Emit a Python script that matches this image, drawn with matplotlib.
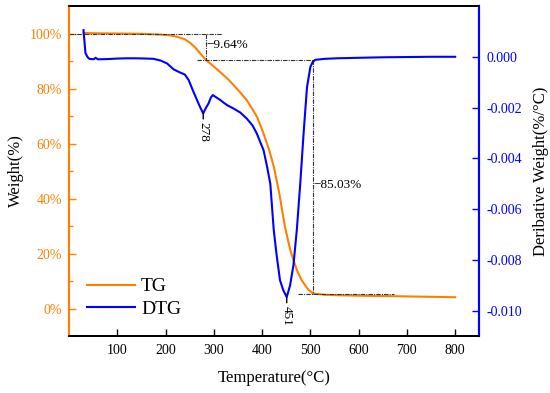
import numpy as np
import matplotlib
matplotlib.use("Agg")
import matplotlib.pyplot as plt

plt.rcParams['font.family'] = ['Liberation Serif', 'DejaVu Serif']
plt.rcParams['axes.unicode_minus'] = False
plt.rcParams['mathtext.default'] = 'regular'

# TG curve (temperature in °C, weight in %)
tg_temp = [30, 50, 100, 150, 190, 210, 224, 240, 251, 262, 272, 284, 300, 313, 330,
           341, 355, 368, 380, 390, 403, 415, 425, 436, 447, 458, 465, 472, 482, 495,
           506, 530, 562, 620, 686, 750, 800]
tg_weight = [100.2, 100.1, 100.0, 99.9, 99.6, 99.3, 98.8, 97.9, 96.6, 94.8, 92.7, 90.3,
             88.0, 86.0, 83.3, 81.2, 78.5, 75.8, 72.5, 69.5, 63.6, 57.5, 51.0, 41.5, 30.0,
             21.5, 17.6, 14.0, 10.3, 7.0, 5.45, 5.0, 4.8, 4.6, 4.45, 4.25, 4.1]

# DTG curve (temperature in °C, derivative weight in %/°C)
dtg_temp = [30, 32, 34, 38, 42, 51, 55, 60, 80, 100, 120, 140, 160, 175, 190, 203,
            217, 230, 240, 248, 256, 265, 272, 278, 284, 289, 294, 298, 305, 313, 327,
            341, 355, 368, 380, 389, 397, 403, 410, 417, 424, 430, 437, 444, 451, 458,
            465, 472, 479, 486, 493, 500, 505, 510, 530, 555, 600, 650, 700, 750, 800]
dtg_value = [0.00105, 0.0006, 0.00015, 0.0, -0.00008, -0.0001, -0.00004, -0.0001,
             -0.00009, -0.00007, -0.00006, -0.00006, -0.00007, -0.00008, -0.00015,
             -0.00026, -0.0005, -0.00062, -0.0007, -0.00092, -0.0013, -0.0017, -0.0020,
             -0.00223, -0.0020, -0.00184, -0.0016, -0.00151, -0.0016, -0.0017, -0.0019,
             -0.00204, -0.0022, -0.00243, -0.0027, -0.00302, -0.0034, -0.00368, -0.0043,
             -0.005, -0.0068, -0.0078, -0.0088, -0.0092, -0.00947, -0.0090, -0.0082,
             -0.0068, -0.005, -0.003, -0.0012, -0.0004, -0.0002, -0.00012, -0.00008,
             -0.00006, -0.00004, -0.00002, -0.00001, 0.0, 0.0]

peaks = [278, 451]
peak_values = [-0.00223, -0.00947]

# mass-loss steps
step1 = -9.64
step2 = -85.03

x_ticks = [100, 200, 300, 400, 500, 600, 700, 800]
left_ticks = [0, 20, 40, 60, 80, 100]
right_ticks = [-0.010, -0.008, -0.006, -0.004, -0.002, 0.000]

ORANGE = '#FF8000'
BLUE = '#0000FF'

fig = plt.figure(figsize=(5.5, 3.93), dpi=100)
ax = fig.add_axes([0.1255, 0.145, 0.746, 0.8397])
ax2 = ax.twinx()

l1, = ax.plot(tg_temp, tg_weight, color=ORANGE, lw=1.5, label='TG')
l2, = ax2.plot(dtg_temp, dtg_value, color=BLUE, lw=1.5, label='DTG')

ax.set_xlim(0, 850)
ax.set_ylim(-10, 110)
ax2.set_ylim(-0.011, 0.002)

ax.set_xticks(x_ticks)
ax.set_yticks(left_ticks)
ax.set_yticklabels([f'{v}%' for v in left_ticks])
ax.set_yticks([10, 30, 50, 70, 90], minor=True)
ax2.set_yticks(right_ticks)
ax2.set_yticklabels([f'{v:.3f}' for v in right_ticks])

ax.tick_params(axis='x', direction='in', length=5, width=1, labelsize=10, pad=6)
ax.tick_params(axis='y', which='both', direction='in', length=5, width=1,
               colors=ORANGE, labelsize=10, pad=5)
ax.tick_params(axis='y', which='minor', length=3)
ax2.tick_params(axis='y', direction='in', length=5, width=1, colors=BLUE,
                labelsize=10, pad=5)

for a in (ax, ax2):
    a.spines['top'].set_linewidth(1.3)
    a.spines['bottom'].set_linewidth(1.3)
    a.spines['left'].set_color(ORANGE)
    a.spines['left'].set_linewidth(1.5)
    a.spines['right'].set_color(BLUE)
    a.spines['right'].set_linewidth(1.5)

ax.set_xlabel('Temperature(°C)', fontsize=12, labelpad=9)
ax.set_ylabel('Weight(%)', fontsize=12, labelpad=4)
ax2.set_ylabel('Deribative Weight(%/°C)', fontsize=12, labelpad=8)

# step annotation lines
dd = dict(color='#333333', lw=0.8, ls=(0, (4, 1, 1, 1)))
w0 = 100.0
w1 = w0 + step1
w2 = w1 + step2
ax.plot([0, 317], [w0, w0], **dd)
ax.plot([284, 284], [w0, w1], **dd)
ax.plot([265, 506], [w1, w1], **dd)
ax.plot([505, 505], [w1, w2], **dd)
ax.plot([475, 673], [w2, w2], **dd)
ax.text(285, 95.7, f'−{abs(step1):.2f}%', fontsize=9.5, va='center', ha='left')
ax.text(506, 44.8, f'−{abs(step2):.2f}%', fontsize=9.5, va='center', ha='left')

for t, v in zip(peaks, peak_values):
    ax2.annotate(f'{t}', xy=(t, v), xytext=(0, -6), textcoords='offset points',
                 rotation=270, ha='center', va='top', fontsize=9.5,
                 arrowprops=dict(arrowstyle='-', lw=1.0, color='black',
                                 shrinkA=0, shrinkB=0))

leg = ax.legend(handles=[l1, l2], loc='lower left', bbox_to_anchor=(0.0, 0.002),
                frameon=False, fontsize=14, handlelength=2.5, labelspacing=0.25,
                handletextpad=0.3)

fig.savefig('out.png', dpi=100)
